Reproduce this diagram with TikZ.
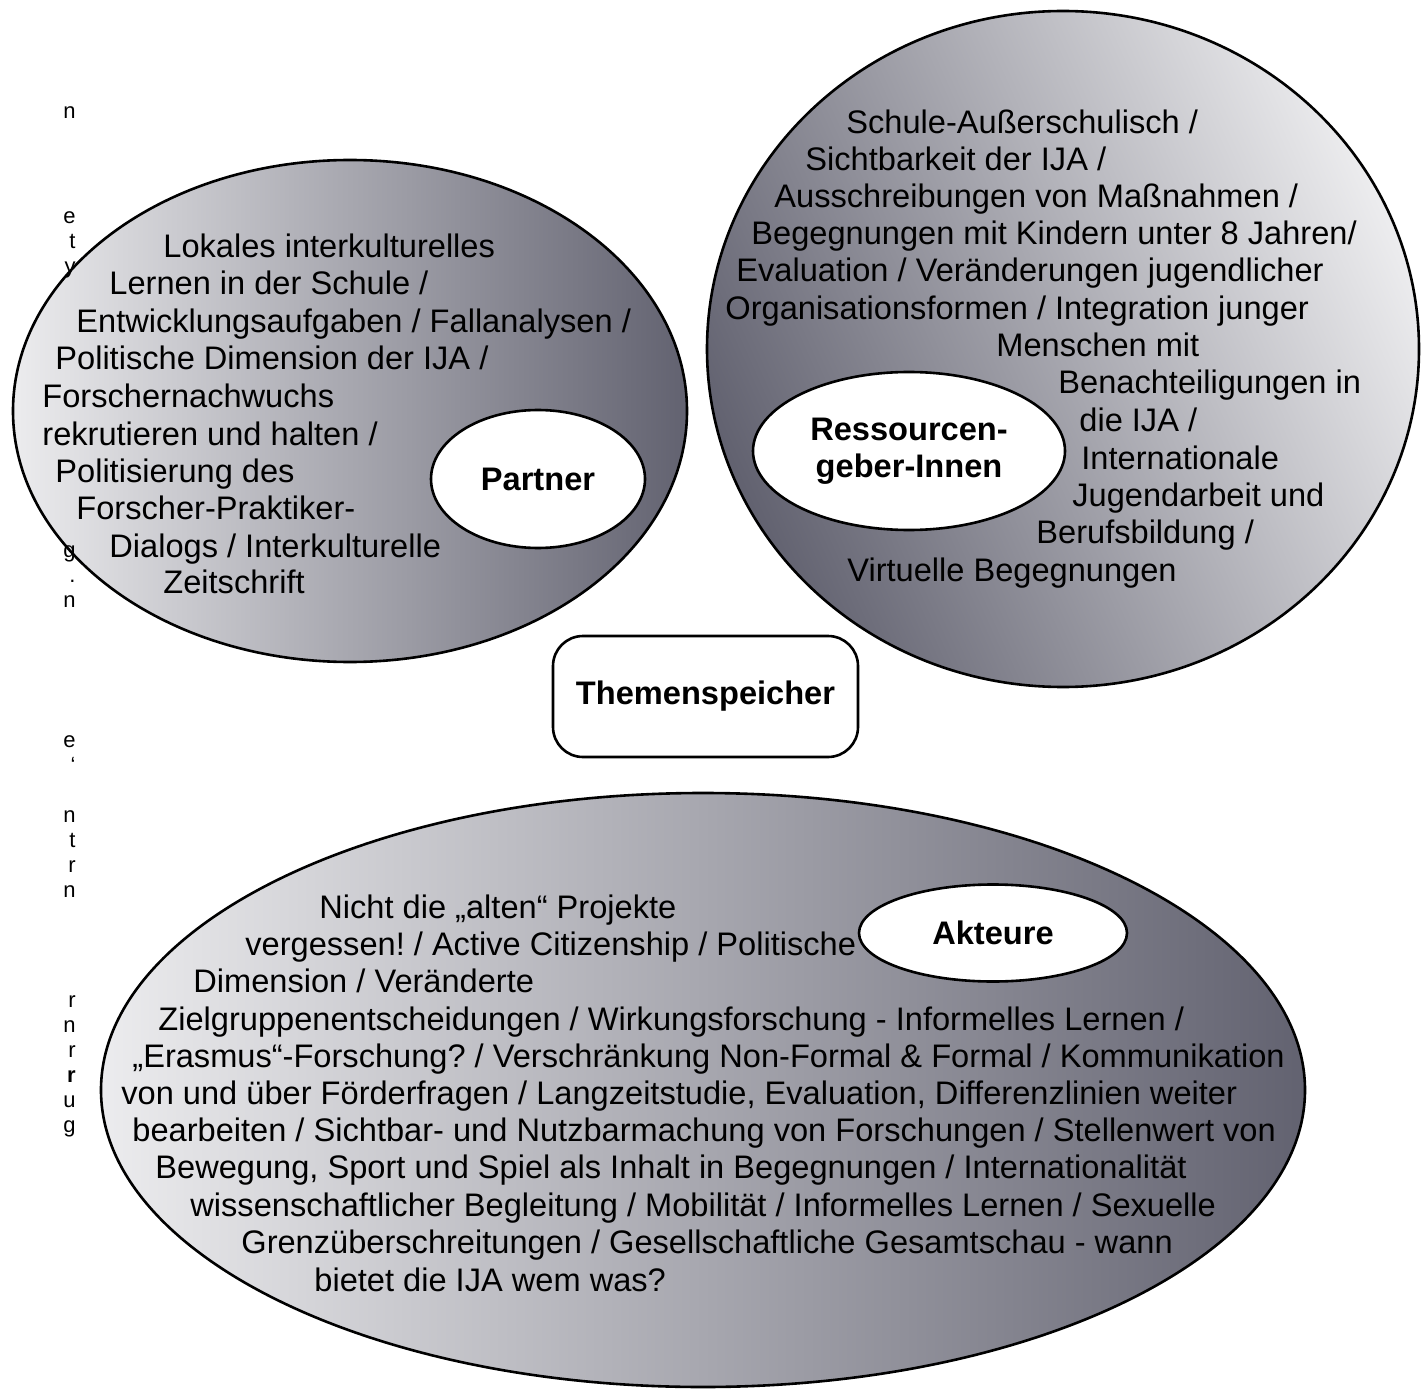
\documentclass[tikz,border=0pt]{standalone}
\usepackage{fontspec}
\setmainfont{Liberation Sans}
\usetikzlibrary{shapes.geometric}
\definecolor{hell}{RGB}{236,236,238}
\definecolor{dunkel}{RGB}{98,98,112}
\newcommand{\grund}{\fontsize{16.3}{18.75}\selectfont}
\tikzset{
	% grosse schattierte Blasen
	blase/.style={
		ellipse,
		draw=black, line width=1.3pt,
		inner sep=0pt},
	% kleine weisse Ellipsen
	kern/.style={
		ellipse,
		draw=black, line width=1.3pt,
		fill=white,
		inner sep=0pt,
		font=\grund\bfseries,
		align=center},
	% Kasten in der Mitte
	kasten/.style={
		rectangle,
		rounded corners=15pt,
		draw=black, line width=1.3pt,
		fill=white,
		font=\grund\bfseries,
		minimum width=152.5pt,
		minimum height=60.5pt},
	% Textzeilen
	zeile/.style={anchor=base west, inner sep=0pt},
	% abgeschnittener Text am linken Rand
	rand/.style={anchor=north east, inner sep=0pt, align=right,
		font=\fontsize{11}{12.5}\selectfont}
}

\begin{document}
\frenchspacing
\begin{tikzpicture}[x=0.5pt, y=-0.5pt, font=\grund]
		\useasboundingbox (0,0) rectangle (1424,1390);
		% Blasen
		\node[blase, minimum width=337pt, minimum height=251pt,
			left color=hell, right color=dunkel] (partnerfeld) at (350,411) {};
		\node[blase, minimum width=356pt, minimum height=338pt,
			top color=hell, bottom color=dunkel, shading angle=-66] (ressourcenfeld) at (1063,349) {};
		\node[blase, minimum width=602pt, minimum height=297pt,
			left color=hell, right color=dunkel] (akteurefeld) at (703,1090) {};
		% Reste vom Text am linken Rand
		\node[rand] (rest1) at (76,106) {n};
		\node[rand] (rest2) at (76,211) {e\\t\\y};
		\node[rand] (rest3) at (76,545) {g\\.\\n};
		\node[rand] (rest4) at (76,735) {e\\‘\\{}\\n\\t\\r\\n};
		\node[rand] (rest5) at (76,995) {r\\n\\r\\\textbf{r}\\u\\g};
		% Partner
		\node[zeile] (p1) at (163,258) {Lokales interkulturelles};
		\node[zeile] (p2) at (109,295) {Lernen in der Schule /};
		\node[zeile] (p3) at (76,333) {Entwicklungsaufgaben / Fallanalysen /};
		\node[zeile] (p4) at (55,370) {Politische Dimension der IJA /};
		\node[zeile] (p5) at (42,408) {Forschernachwuchs};
		\node[zeile] (p6) at (42,445) {rekrutieren und halten /};
		\node[zeile] (p7) at (55,482) {Politisierung des};
		\node[zeile] (p8) at (76,519) {Forscher-Praktiker-};
		\node[zeile] (p9) at (109,557) {Dialogs / Interkulturelle};
		\node[zeile] (p10) at (163,593) {Zeitschrift};
		% RessourcengeberInnen
		\node[zeile] (r1) at (846,134) {Schule-Außerschulisch /};
		\node[zeile] (r2) at (805,171) {Sichtbarkeit der IJA /};
		\node[zeile] (r3) at (774,208) {Ausschreibungen von Maßnahmen /};
		\node[zeile] (r4) at (751,245) {Begegnungen mit Kindern unter 8 Jahren/};
		\node[zeile] (r5) at (736,282) {Evaluation / Veränderungen jugendlicher};
		\node[zeile] (r6) at (725,320) {Organisationsformen / Integration junger};
		\node[zeile] (r7) at (996,357) {Menschen mit};
		\node[zeile] (r8) at (1058,394) {Benachteiligungen in};
		\node[zeile] (r9) at (1079,432) {die IJA /};
		\node[zeile] (r10) at (1081,469) {Internationale};
		\node[zeile] (r11) at (1072,506) {Jugendarbeit und};
		\node[zeile] (r12) at (1036,543) {Berufsbildung /};
		\node[zeile] (r13) at (847,581) {Virtuelle Begegnungen};
		% Akteure
		\node[zeile] (a1) at (319,918) {Nicht die „alten“ Projekte};
		\node[zeile] (a2) at (245,955) {vergessen! / Active Citizenship / Politische};
		\node[zeile] (a3) at (193,992) {Dimension / Veränderte};
		\node[zeile] (a4) at (158,1030) {Zielgruppenentscheidungen / Wirkungsforschung - Informelles Lernen /};
		\node[zeile] (a5) at (132,1067) {„Erasmus“-Forschung? / Verschränkung Non-Formal \& Formal / Kommunikation};
		\node[zeile] (a6) at (121,1104) {von und über Förderfragen / Langzeitstudie, Evaluation, Differenzlinien weiter};
		\node[zeile] (a7) at (132,1141) {bearbeiten / Sichtbar- und Nutzbarmachung von Forschungen / Stellenwert von};
		\node[zeile] (a8) at (155,1178) {Bewegung, Sport und Spiel als Inhalt in Begegnungen / Internationalität};
		\node[zeile] (a9) at (190,1216) {wissenschaftlicher Begleitung / Mobilität / Informelles Lernen / Sexuelle};
		\node[zeile] (a10) at (241,1253) {Grenzüberschreitungen / Gesellschaftliche Gesamtschau - wann};
		\node[zeile] (a11) at (314,1291) {bietet die IJA wem was?};
		% kleine Ellipsen und Kasten
		\node[kern, minimum width=107pt, minimum height=69pt] (partner) at (538,479) {Partner};
		\node[kern, minimum width=156pt, minimum height=79pt] (ressourcen) at (909,451) {Ressourcen-\\geber-Innen};
		\node[kern, minimum width=134pt, minimum height=48.5pt] (akteure) at (993,933) {Akteure};
		\node[kasten] (themen) at (705.5,696.5) {Themenspeicher};
\end{tikzpicture}
\end{document}
